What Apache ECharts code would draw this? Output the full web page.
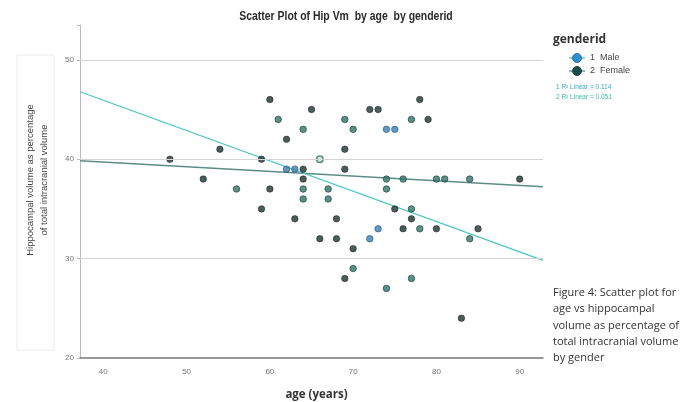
<!DOCTYPE html>
<html>
<head>
<meta charset="utf-8">
<script src="https://cdn.jsdelivr.net/npm/echarts@6/dist/echarts.min.js"></script>
<style>
html,body{margin:0;padding:0;background:#fff;}
#chart{width:689px;height:402px;}
</style>
</head>
<body>
<div id="chart"></div>
<script>
// ---- data (age, hippocampal volume %) ----
var femalePts = [[60,46],[78,46],[65,45],[72,45],[73,45],[79,44],[62,42],[54,41],[69,41],[48,40],[59,40],
  [64,39],[69,39],[52,38],[64,38],[90,38],[60,37],[59,35],[75,35],[63,34],[68,34],[77,34],[76,33],[80,33],
  [85,33],[66,32],[68,32],[70,31],[69,28],[83,24]];
var maleTealPts = [[61,44],[69,44],[77,44],[64,43],[70,43],[74,38],[76,38],[80,38],[81,38],[84,38],[56,37],
  [64,37],[67,37],[74,37],[64,36],[67,36],[77,35],[78,33],[84,32],[70,29],[77,28],[74,27]];
var maleBluePts = [[74,43],[75,43],[62,39],[63,39],[73,33],[72,32]];
var maleOpenPts = [[66,40]];
var fitIntercept = [58.13, 41.59];   // 1 = Male, 2 = Female
var fitSlope = [-0.305, -0.047];
var fitLabels = ['1 R\u00b2 Linear = 0.114', '2 R\u00b2 Linear = 0.051'];
var yTicks = [20, 30, 40, 50];
var xTicks = [40, 50, 60, 70, 80, 90];
var legendNames = ['1  Male', '2  Female'];

var xMin = 37.2, xMax = 92.8, yMin = 20, yMax = 53.5;

function fitLine(i) {
  return [[xMin, fitIntercept[i] + fitSlope[i] * xMin], [xMax, fitIntercept[i] + fitSlope[i] * xMax]];
}

var cFemale = '#1b3532', cTeal = '#2f7569', cBlue = '#3a80b8';
var dotBase = {type: 'scatter', symbolSize: 6.5, z: 3};

var chart = echarts.init(document.getElementById('chart'));
chart.setOption({
  animation: false,
  backgroundColor: '#fff',
  grid: {left: 80, right: 146, top: 25, bottom: 44, containLabel: false, outerBoundsMode: 'none'},
  xAxis: {
    type: 'value', min: xMin, max: xMax,
    name: 'age (years)', nameLocation: 'middle', nameGap: 31,
    nameTextStyle: {fontFamily: 'Open Sans', fontSize: 11.5, fontWeight: 'bold', color: '#333', padding: [0, 0, 0, 10]},
    axisLine: {show: true, lineStyle: {color: '#777', width: 1.5}},
    axisTick: {show: false},
    splitLine: {show: false},
    axisLabel: {
      fontSize: 8, color: '#777', fontFamily: 'Liberation Sans', margin: 10,
      formatter: function (v) { return xTicks.indexOf(Math.round(v * 10) / 10) >= 0 ? String(v) : ''; }
    }
  },
  yAxis: {
    type: 'value', min: yMin, max: yMax, interval: 10,
    axisLine: {show: true, lineStyle: {color: '#bbb', width: 1}},
    axisTick: {show: true, length: 3, lineStyle: {color: '#bbb'}},
    splitLine: {show: false},
    axisLabel: {
      fontSize: 8, color: '#777', fontFamily: 'Liberation Sans', margin: 6,
      formatter: function (v) { return yTicks.indexOf(v) >= 0 ? String(v) : ''; }
    }
  },
  series: [
    {
      type: 'line', data: fitLine(1), symbol: 'none', z: 2,
      lineStyle: {color: '#5e8c84', width: 1.3},
      markLine: {
        silent: true, symbol: 'none', label: {show: false},
        lineStyle: {color: '#d4d4d4', width: 1, type: 'solid'},
        data: yTicks.slice(1).map(function (t) { return {yAxis: t}; })
      }
    },
    {type: 'line', data: fitLine(0), symbol: 'none', z: 2, lineStyle: {color: '#4cc6c4', width: 1.3}},
    Object.assign({}, dotBase, {data: femalePts, itemStyle: {color: cFemale, borderColor: '#111', borderWidth: 0.6}}),
    Object.assign({}, dotBase, {data: maleTealPts, itemStyle: {color: cTeal, borderColor: '#1b3b36', borderWidth: 0.8}}),
    Object.assign({}, dotBase, {data: maleBluePts, itemStyle: {color: cBlue, borderColor: '#2a4f6e', borderWidth: 0.8}}),
    Object.assign({}, dotBase, {data: maleOpenPts, itemStyle: {color: '#cfe3df', borderColor: cTeal, borderWidth: 1.6}})
  ],
  graphic: [
    {type: 'text', x: 346, y: 17, scaleX: 0.87, style: {
      text: 'Scatter Plot of Hip Vm  by age  by genderid', align: 'center', verticalAlign: 'middle',
      fontFamily: 'Liberation Sans', fontSize: 12, fontWeight: 'bold', fill: '#2a2a2a'}},
    {type: 'rect', shape: {x: 17, y: 55, width: 37, height: 295}, style: {fill: 'none', stroke: '#ececec', lineWidth: 1}},
    {type: 'text', x: 37, y: 180, rotation: Math.PI / 2, style: {
      text: 'Hippocampal volume as percentage\nof total intracranial volume', align: 'center', verticalAlign: 'middle',
      fontFamily: 'Liberation Sans', fontSize: 9.5, lineHeight: 14, fill: '#444'}},
    {type: 'text', x: 553, y: 34, style: {text: 'genderid', fontFamily: 'Open Sans', fontSize: 12, fontWeight: 'bold', fill: '#333'}},
    {type: 'line', shape: {x1: 569, y1: 58, x2: 585, y2: 58}, style: {stroke: '#4cc6c4', lineWidth: 1.3}},
    {type: 'circle', shape: {cx: 577, cy: 58, r: 4.5}, style: {fill: '#2d8fcf', stroke: '#1f5f8a', lineWidth: 0.8}},
    {type: 'text', x: 590, y: 53, style: {text: legendNames[0], fontFamily: 'Liberation Sans', fontSize: 9, fill: '#444'}},
    {type: 'line', shape: {x1: 569, y1: 71, x2: 585, y2: 71}, style: {stroke: '#5e8c84', lineWidth: 1.3}},
    {type: 'circle', shape: {cx: 577, cy: 71, r: 4.5}, style: {fill: '#1a4f47', stroke: '#0f2e29', lineWidth: 0.8}},
    {type: 'text', x: 590, y: 66, style: {text: legendNames[1], fontFamily: 'Liberation Sans', fontSize: 9, fill: '#444'}},
    {type: 'text', x: 556, y: 84, style: {text: fitLabels[0], fontFamily: 'Liberation Sans', fontSize: 6.5, fill: '#3aa9c4'}},
    {type: 'text', x: 556, y: 94, style: {text: fitLabels[1], fontFamily: 'Liberation Sans', fontSize: 6.5, fill: '#3ab9a8'}},
    {type: 'text', x: 553, y: 285, style: {
      text: 'Figure 4: Scatter plot for\nage vs hippocampal\nvolume as percentage of\ntotal intracranial volume\nby gender',
      fontFamily: 'Open Sans', fontSize: 11, lineHeight: 16.2, fill: '#333'}}
  ]
});
</script>
</body>
</html>
